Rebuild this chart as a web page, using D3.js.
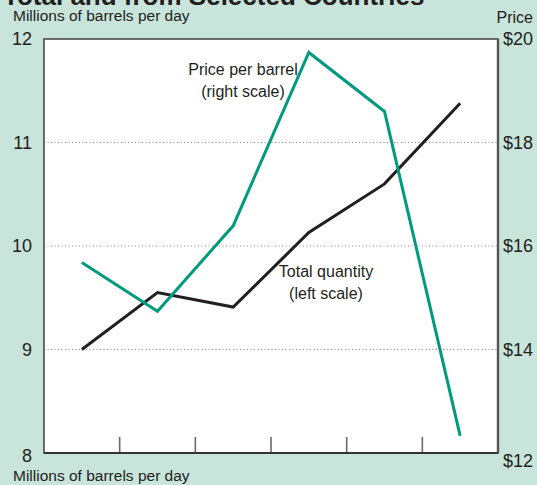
<!DOCTYPE html>
<html>
<head>
<meta charset="utf-8">
<script src="https://cdn.jsdelivr.net/npm/d3@7"></script>
<style>
  html, body { margin: 0; padding: 0; background: #c8e4db; }
  svg { display: block; }
  text { font-family: "Liberation Sans", Arial, Helvetica, sans-serif; fill: #231f20; }
</style>
</head>
<body>
<svg id="chart" width="537" height="485"></svg>
<script>
// Periods along the horizontal axis (one band each)
const periods = ["1993", "1994", "1995", "1996", "1997", "1998"];
// Total quantity, millions of barrels per day (left scale)
const quantity = [9.0, 9.55, 9.41, 10.13, 10.6, 11.38];
// Price per barrel, dollars (right scale)
const price = [15.68, 14.74, 16.39, 19.74, 18.6, 12.33];
// Axis ticks
const leftTicks = [8, 9, 10, 11, 12];
const rightTicks = [12, 14, 16, 18, 20];
const gridTicks = [9, 10, 11];

const W = 537, H = 485;
const plot = { left: 44, right: 498, top: 39, bottom: 453 };

const svg = d3.select("#chart");

svg.append("rect").attr("width", W).attr("height", H).attr("fill", "#c8e4db");

// Heading, mostly above the top edge
svg.append("text")
  .attr("x", 3).attr("y", 5)
  .attr("font-size", 26).attr("font-weight", "bold")
  .text("Total and from Selected Countries");

const x = d3.scaleBand().domain(periods).range([plot.left, plot.right]);
const yL = d3.scaleLinear().domain([8, 12]).range([plot.bottom, plot.top]);
const yR = d3.scaleLinear().domain([12, 20]).range([plot.bottom, plot.top]);

// White plotting area
svg.append("rect")
  .attr("x", plot.left).attr("y", plot.top)
  .attr("width", plot.right - plot.left).attr("height", plot.bottom - plot.top)
  .attr("fill", "#ffffff");

// Dotted gridlines
svg.append("g").selectAll("line").data(gridTicks).join("line")
  .attr("x1", plot.left).attr("x2", plot.right)
  .attr("y1", d => yL(d)).attr("y2", d => yL(d))
  .attr("stroke", "#8a8a8a").attr("stroke-width", 1)
  .attr("stroke-dasharray", "1,2.5");

// Period boundary ticks along the bottom
svg.append("g").selectAll("line").data(periods.slice(1)).join("line")
  .attr("x1", d => x(d)).attr("x2", d => x(d))
  .attr("y1", plot.bottom).attr("y2", plot.bottom - 16)
  .attr("stroke", "#6a6a6a").attr("stroke-width", 1.6);

// Frame
svg.append("rect")
  .attr("x", plot.left).attr("y", plot.top)
  .attr("width", plot.right - plot.left).attr("height", plot.bottom - plot.top)
  .attr("fill", "none").attr("stroke", "#4a4a4a").attr("stroke-width", 1.6);
svg.append("line")
  .attr("x1", plot.left).attr("x2", plot.right)
  .attr("y1", plot.bottom).attr("y2", plot.bottom)
  .attr("stroke", "#333").attr("stroke-width", 2);
svg.append("line")
  .attr("x1", plot.right).attr("x2", plot.right)
  .attr("y1", plot.top).attr("y2", plot.bottom)
  .attr("stroke", "#555").attr("stroke-width", 2.4);

// Left axis labels
const leftAxis = svg.append("g")
  .attr("transform", `translate(${plot.left},0)`)
  .call(d3.axisLeft(yL).tickValues(leftTicks).tickSize(0).tickPadding(12).tickFormat(d3.format("d")));
leftAxis.select(".domain").remove();
leftAxis.attr("font-family", null);
leftAxis.selectAll("text")
  .attr("font-size", 18).attr("fill", "#231f20")
  .attr("dy", d => d === 8 ? "0.45em" : "0.32em");

// Right axis labels
const rightAxis = svg.append("g")
  .attr("transform", `translate(${plot.right},0)`)
  .call(d3.axisRight(yR).tickValues(rightTicks).tickSize(0).tickPadding(5).tickFormat(d => "$" + d));
rightAxis.select(".domain").remove();
rightAxis.attr("font-family", null);
rightAxis.selectAll("text")
  .attr("font-size", 18).attr("fill", "#231f20")
  .attr("dy", d => d === 12 ? "0.75em" : "0.32em");

// Axis titles
svg.append("text").attr("x", 13).attr("y", 21).attr("font-size", 15.5)
  .text("Millions of barrels per day");
svg.append("text").attr("x", 13).attr("y", 481).attr("font-size", 15.5)
  .text("Millions of barrels per day");
svg.append("text").attr("x", 533).attr("y", 23).attr("font-size", 16)
  .attr("text-anchor", "end").text("Price");

// Series lines
const cx = (d, i) => x(periods[i]) + x.bandwidth() / 2;

svg.append("path").datum(quantity)
  .attr("fill", "none").attr("stroke", "#231f20").attr("stroke-width", 3)
  .attr("stroke-linejoin", "miter")
  .attr("d", d3.line().x(cx).y(d => yL(d)));

svg.append("path").datum(price)
  .attr("fill", "none").attr("stroke", "#009b7d").attr("stroke-width", 3)
  .attr("stroke-linejoin", "miter")
  .attr("d", d3.line().x(cx).y(d => yR(d)));

// Series annotations
const note = (lines, cxPos, y0) => {
  const t = svg.append("text").attr("font-size", 16).attr("text-anchor", "middle");
  lines.forEach((s, i) => t.append("tspan").attr("x", cxPos).attr("y", y0 + i * 22).text(s));
};
note(["Price per barrel", "(right scale)"], 243, 75);
note(["Total quantity", "(left scale)"], 326, 277);
</script>
</body>
</html>
